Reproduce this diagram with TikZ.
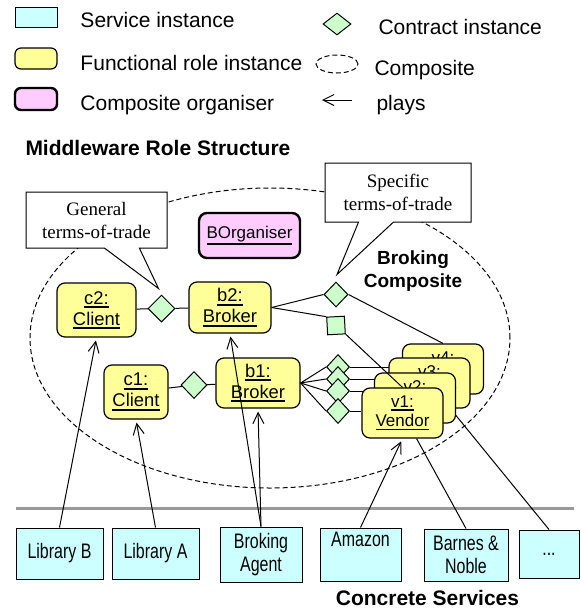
\documentclass[tikz,border=0pt]{standalone}
\usepackage{fontspec}
\setmainfont{Liberation Sans}
\newfontfamily\calloutfont{Liberation Serif}
\newfontfamily\servicefont[FakeStretch=0.76]{Liberation Sans}
\usetikzlibrary{arrows.meta,calc,shapes.geometric,shapes.callouts}

\definecolor{svcfill}{HTML}{CCFFFF}
\definecolor{rolefill}{HTML}{FFFF99}
\definecolor{orgfill}{HTML}{FFCCFF}
\definecolor{contractfill}{HTML}{CCFFCC}
\definecolor{bargray}{HTML}{999999}

% underlined instance names, with a heavier rule than \underline
\newcommand{\rolename}[1]{\leavevmode\vtop{\hbox{#1}\kern0.9pt\hrule height 0.85pt}}

\begin{document}
\begin{tikzpicture}[x=0.5pt,y=-0.5pt,line width=0.5pt,
  svc/.style={draw,fill=svcfill,inner sep=0pt,align=center,font={\servicefont\fontsize{10.5}{11.5}\selectfont}},
  role/.style={draw,fill=rolefill,rounded corners=4pt,line width=0.6pt,inner sep=0pt,align=center,minimum width=41pt,minimum height=25.5pt,font=\fontsize{9.2}{10.5}\selectfont},
  vendor/.style={role,minimum width=40.5pt,minimum height=25pt,font=\fontsize{8.5}{9.8}\selectfont},
  organiser/.style={role,fill=orgfill,line width=1.2pt},
  contract/.style={diamond,draw,fill=contractfill,inner sep=0pt,minimum width=13pt,minimum height=13pt},
  callbox/.style={rectangle callout,draw,fill=white,align=center,inner sep=0pt,callout pointer width=17.5pt,font={\calloutfont\fontsize{9.5}{11.5}\selectfont}},
  composite/.style={dash pattern=on 2.5pt off 1.5pt},
  plays/.style={-{Straight Barb[length=5.5pt,width=5.5pt]},shorten >=1.5pt},
  servicebar/.style={draw=bargray,line width=1.5pt},
  keytext/.style={anchor=base west,inner sep=0pt,font=\fontsize{10.5}{12.6}\selectfont},
  heading/.style={inner sep=0pt,align=center,font=\bfseries\fontsize{10.5}{12.6}\selectfont}]
\useasboundingbox (0,0) rectangle (580,612);

% legend
\node[svc,minimum width=21pt,minimum height=10pt] (keysvc) at (36,17) {};
\node[keytext] (keysvclabel) at (80,27) {Service instance};
\node[role,minimum width=21pt,minimum height=10.5pt,rounded corners=3pt] (keyrole) at (36,58.5) {};
\node[keytext] (keyrolelabel) at (80,70) {Functional role instance};
\node[organiser,minimum width=21pt,minimum height=11pt,rounded corners=3pt] (keyorg) at (36,99) {};
\node[keytext] (keyorglabel) at (80,110) {Composite organiser};
\node[contract,minimum width=14pt,minimum height=11pt] (keycontract) at (337,24) {};
\node[keytext] (keycontractlabel) at (378,34) {Contract instance};
\draw[composite] (337,64) ellipse [x radius=10.5pt,y radius=4.5pt];
\node[keytext] (keycompositelabel) at (374,75) {Composite};
\draw[plays,shorten >=0pt] (352,100) -- (322,100);
\node[keytext] (keyplayslabel) at (376,110) {plays};
\node[keytext,font=\bfseries\fontsize{10.5}{12.6}\selectfont] (middleware) at (25,155) {Middleware Role Structure};

% broking composite
\draw[composite] (270,338) ellipse [x radius=120pt,y radius=75pt];
\node[organiser,minimum width=50.5pt,minimum height=22.5pt,font=\fontsize{8.5}{10}\selectfont] (borg) at (249.5,235.5) {\rolename{BOrganiser}};
\node[heading,font=\bfseries\fontsize{9.5}{11.5}\selectfont] (broking) at (413,271.5) {Broking\\Composite};

% roles and contracts
\node[role,minimum width=39.5pt,minimum height=27pt] (c2) at (96.5,310) {\rolename{c2:}\\\rolename{Client}};
\node[contract,minimum width=13.5pt,minimum height=13.5pt] (dc2) at (161.5,308.5) {};
\node[role] (b2) at (230,307.5) {\rolename{b2:}\\\rolename{Broker}};
\node[contract,minimum width=12pt,minimum height=12.5pt] (ds) at (336,294.5) {};
\node[contract,minimum width=12.7pt,minimum height=12.7pt,rotate=48] (sq) at (336,325.5) {};
\node[role,minimum width=32pt,minimum height=27pt] (c1) at (136,392) {\rolename{c1:}\\\rolename{Client}};
\node[contract,minimum height=13.5pt] (dc1) at (194,385) {};
\node[role,minimum width=42pt,minimum height=25pt] (b1) at (258,383) {\rolename{b1:}\\\rolename{Broker}};
\foreach \i/\y in {1/367,2/379,3/391,4/411}
  \node[contract,minimum width=11.5pt,minimum height=12.5pt] (f\i) at (338,\y) {};

\draw (c2) -- (dc2) -- (b2);
\draw (c1) -- (dc1) -- (b1);
\draw (b2.east) -- (ds.west);
\draw (b2.east) -- (sq.north);
\foreach \i in {1,...,4}
  \draw (b1.east) -- (f\i.west);

% terms-of-trade notes
\node[callbox,minimum width=70.5pt,minimum height=28pt,callout absolute pointer={($(dc2.north)+(-3,-6)$)}] (general) at (96.5,220) {General\\terms-of-trade};
\node[callbox,minimum width=73pt,minimum height=29.5pt,callout absolute pointer={($(ds.north)+(1,-7)$)}] (specific) at (398,192.5) {Specific\\terms-of-trade};

% concrete services
\draw[servicebar] (16,508) -- (574,508);
\node[svc,minimum width=43.5pt,minimum height=25.5pt] (libb) at (59.5,553.5) {Library B};
\node[svc,minimum width=43.5pt,minimum height=25.5pt] (liba) at (155.5,553.5) {Library A};
\node[svc,minimum width=41pt,minimum height=27.5pt] (agent) at (261,554.5) {Broking\\Agent};
\node[svc,minimum width=40.5pt,minimum height=26.5pt] (amazon) at (360.5,554.5) {Amazon\\\strut};
\node[svc,minimum width=42pt,minimum height=26pt] (barnes) at (466,555) {Barnes \&\\Noble};
\node[svc,minimum width=30pt,minimum height=24pt] (etc) at (549,554) {...};
\node[heading] (concrete) at (427.5,598) {Concrete Services};

% vendors, back to front
\node[vendor] (v4) at (443,369) {\rolename{v4:}\\\rolename{Vendor}};
\draw (f1.east) -- (f1.east -| v4.west);
\draw (ds.east) -- (v4.north);
\node[vendor] (v3) at (429.5,383) {\rolename{v3:}\\\rolename{Vendor}};
\draw (f2.east) -- (f2.east -| v3.west);
\draw (etc.north) -- (v3);
\node[vendor] (v2) at (415,398) {\rolename{v2:}\\\rolename{Vendor}};
\draw (f3.east) -- (f3.east -| v2.west);
\node[vendor] (v1) at (402.5,413) {\rolename{v1:}\\\rolename{Vendor}};
\draw (f4.east) -- (f4.east -| v1.west);
\draw (sq.south) -- (v1.north);
\draw (barnes.north) -- (v1);

% plays
\draw[plays] (libb.north) -- (c2.south);
\draw[plays] (liba.north) -- (c1.south);
\draw[plays] (agent.north) -- (b1.south);
\draw[plays] (agent.north) -- (b2.south);
\draw[plays] (amazon.north) -- (v1.south);
\end{tikzpicture}
\end{document}
